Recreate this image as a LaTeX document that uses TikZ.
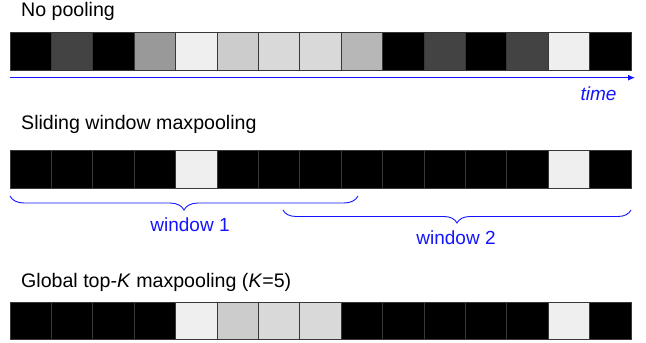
\documentclass[tikz,border=0pt]{standalone}
\usepackage{fontspec}
\setmainfont{Liberation Sans}
\usetikzlibrary{arrows.meta,decorations.pathreplacing}
\definecolor{gA}{HTML}{434343}
\definecolor{gB}{HTML}{999999}
\definecolor{gC}{HTML}{EFEFEF}
\definecolor{gD}{HTML}{CCCCCC}
\definecolor{gE}{HTML}{D9D9D9}
\definecolor{gF}{HTML}{B7B7B7}
\definecolor{edge}{HTML}{383838}
\definecolor{tblue}{RGB}{20,20,255}
\tikzset{
  cell/.style={draw=edge, line width=0.7pt, minimum width=41.4pt, minimum height=37.6pt, inner sep=0pt, outer sep=0pt},
  lbl/.style={inner sep=0pt, font=\fontsize{19.6}{23}\selectfont},
  blbl/.style={inner sep=0pt, text=tblue, font=\fontsize{19}{22}\selectfont},
  brc/.style={decorate, draw=tblue, line width=0.9pt, decoration={brace, mirror, amplitude=#1}},
}
\begin{document}
\begin{tikzpicture}[x=1pt,y=-1pt]
\useasboundingbox (0,0) rectangle (646,343);
% titles
\node[lbl, anchor=base west] (t1) at (21,16) {No pooling};
\node[lbl, anchor=base west] (t2) at (21,129.5) {Sliding window maxpooling};
\node[lbl, anchor=base west] (t3) at (21,287) {Global top-\textit{K} maxpooling (\textit{K}=5)};
% row 1
\foreach \c [count=\i from 0] in {black,gA,black,gB,gC,gD,gE,gE,gF,black,gA,black,gA,gC,black}
  \node[cell, fill=\c] (ra\i) at ({10+41.4*\i+20.7},51.2) {};
% row 2
\foreach \c [count=\i from 0] in {black,black,black,black,gC,black,black,black,black,black,black,black,black,gC,black}
  \node[cell, fill=\c] (rb\i) at ({10+41.4*\i+20.7},169.4) {};
% row 3
\foreach \c [count=\i from 0] in {black,black,black,black,gC,gD,gE,gE,black,black,black,black,black,gC,black}
  \node[cell, fill=\c] (rc\i) at ({10+41.4*\i+20.7},321) {};
% time arrow
\coordinate (ts) at (10,77.7);
\coordinate (te) at (635,77.7);
\draw[tblue, line width=0.9pt, -{Latex[length=7pt,width=6pt]}] (ts) -- (te);
\node[blbl, anchor=base] (time) at (598.5,100) {\textit{time}};
% braces
\coordinate (b1a) at (10,196);
\coordinate (b1b) at (358,196);
\coordinate (b2a) at (283,210);
\coordinate (b2b) at (631,210);
\draw[brc=14pt] (b1a) -- (b1b);
\draw[brc=13pt] (b2a) -- (b2b);
\node[blbl, anchor=base] (w1) at (190,231) {window 1};
\node[blbl, anchor=base] (w2) at (456,244) {window 2};
\end{tikzpicture}
\end{document}
